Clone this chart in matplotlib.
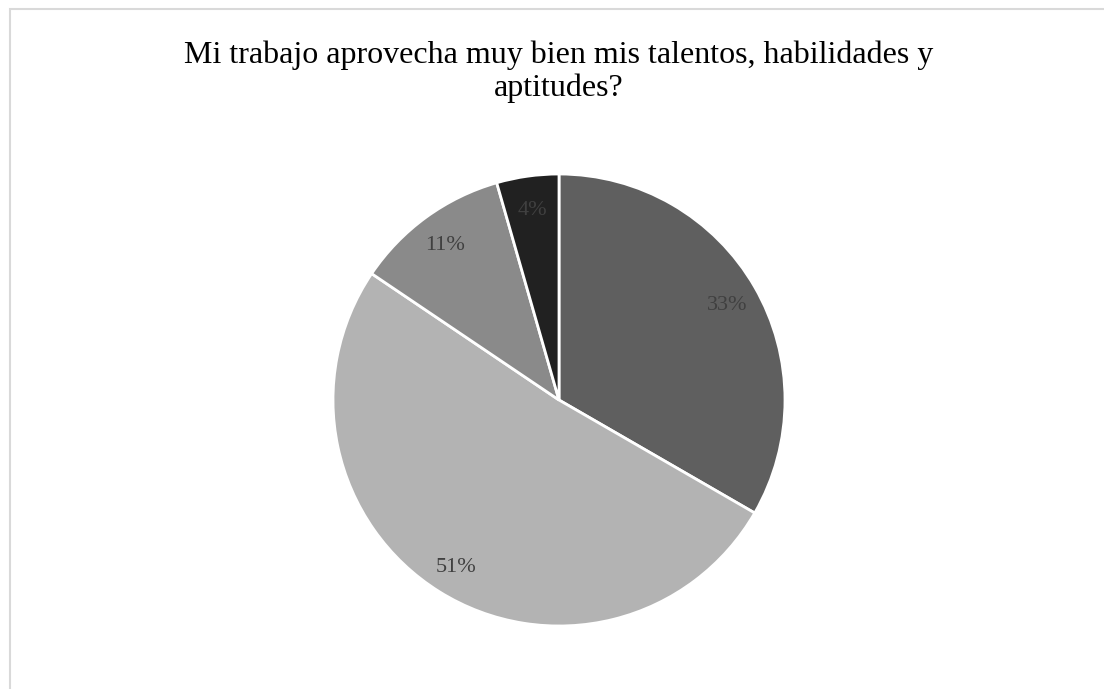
import matplotlib.pyplot as plt
from matplotlib.patches import Rectangle

plt.rcParams['font.family'] = ['Liberation Serif', 'DejaVu Serif']

# respuestas (conteos) por categoría, en el orden en que se dibujan
counts = [15, 23, 5, 2]
colors = ['#5f5f5f', '#b3b3b3', '#8a8a8a', '#212121']
title = 'Mi trabajo aprovecha muy bien mis talentos, habilidades y\naptitudes?'

W, H = 1104, 689
fig = plt.figure(figsize=(W / 100, H / 100), dpi=100)

# marco del área del gráfico (solo bordes superior e izquierdo visibles)
fig.add_artist(Rectangle((10 / W, -0.1), 1.2, 1 - 9 / H + 0.1,
                         transform=fig.transFigure, fill=False,
                         edgecolor='#d9d9d9', linewidth=1.5))

# va='baseline' se refiere a la última línea del título
fig.text(559 / W, 1 - 96 / H, title, ha='center', va='baseline',
         fontsize=23, linespacing=1.17, color='#000000')

cx, cy, r = 559, 400, 226
ax = fig.add_axes([(cx - r) / W, (H - cy - r) / H, 2 * r / W, 2 * r / H])
wedges, texts, autotexts = ax.pie(
    counts, colors=colors, startangle=90, counterclock=False,
    autopct='%1.0f%%', pctdistance=0.86, radius=1,
    wedgeprops=dict(edgecolor='white', linewidth=2),
    textprops=dict(color='#404040', fontsize=16))
for t in autotexts:
    t.set_verticalalignment('center_baseline')
ax.set_xlim(-1, 1)
ax.set_ylim(-1, 1)
ax.axis('off')

fig.savefig('out.png', dpi=100, facecolor='white')
